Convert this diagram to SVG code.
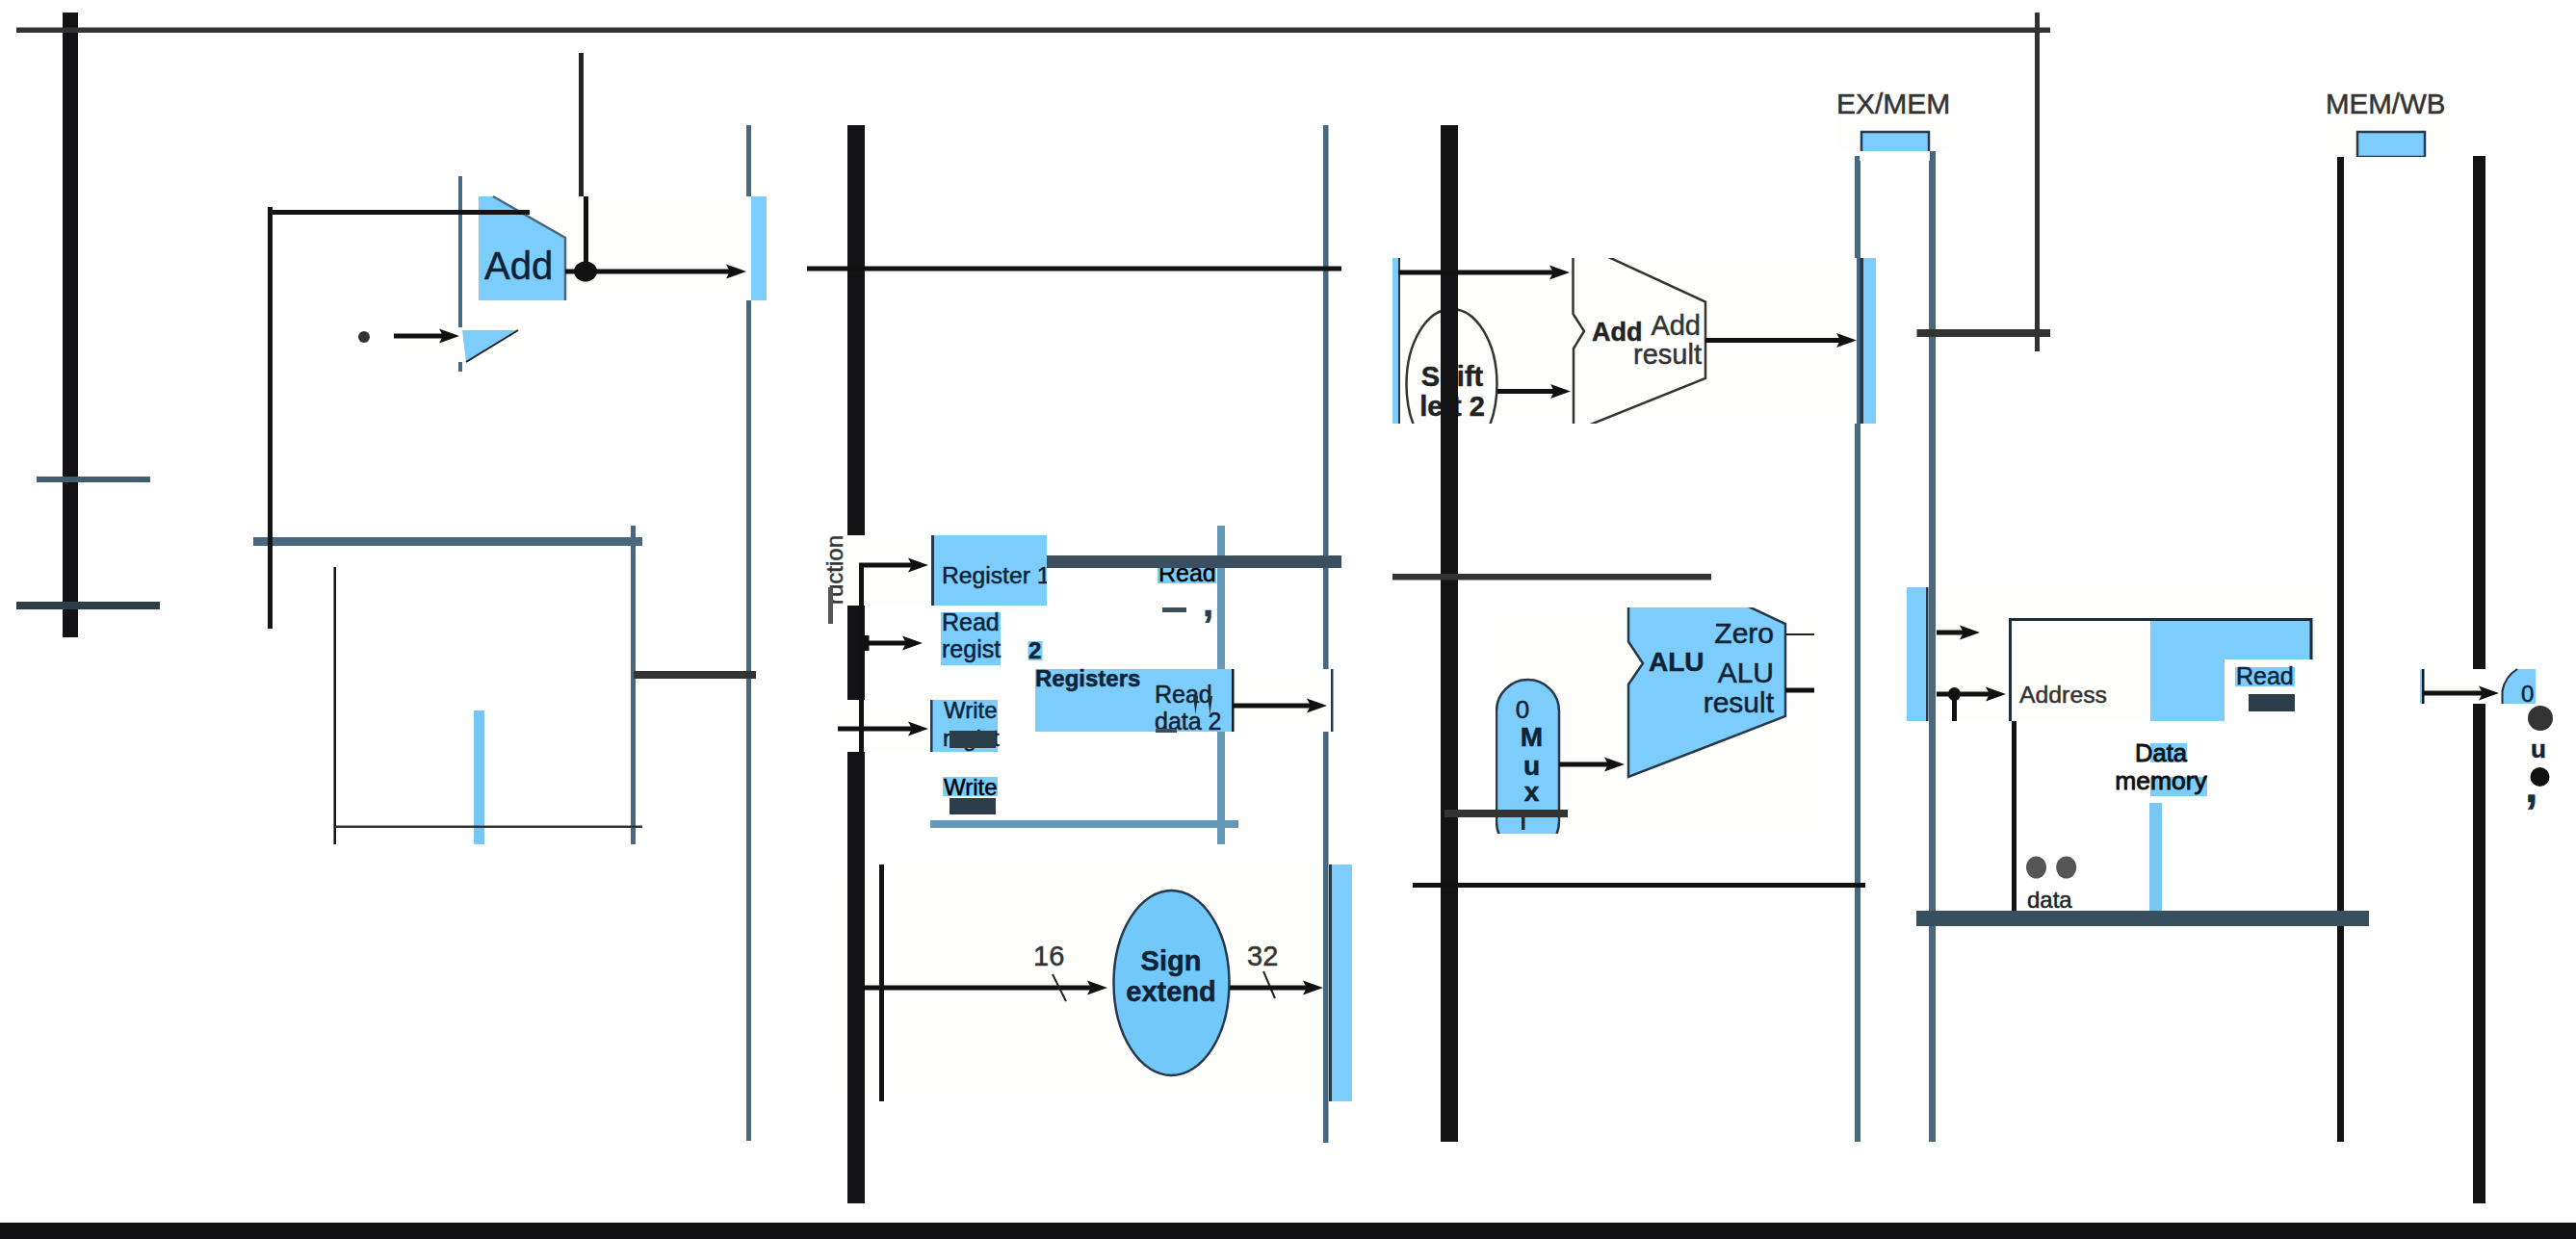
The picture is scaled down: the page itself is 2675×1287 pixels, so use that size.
<svg xmlns="http://www.w3.org/2000/svg" width="2675" height="1287" viewBox="0 0 2675 1287">
<style>
text{font-family:"Liberation Sans",Arial,sans-serif;fill:#0f2236;stroke:#0f2236;stroke-width:.5px;font-size:24px}
.b{font-weight:bold}
.g{fill:#333;stroke:#333}
.e{text-anchor:end}
.m{text-anchor:middle}
.blue{fill:#7ccdfb}
.bg{fill:#fefefc}
.black{fill:#131214}
.slate{fill:#48687f}
.sky{fill:#6499b9}
.dk{fill:#2d3e4b}
.ch{fill:#333}
.ink{fill:#3a5060}
.w{fill:#fff}
.shape{stroke:#26384a;stroke-width:2.5}
.open{fill:none;stroke:#333;stroke-width:2.5}
.arr{fill:none;stroke:#111;stroke-width:5;marker-end:url(#ah)}
.ln{fill:none;stroke:#111;stroke-width:5}
.tick{fill:none;stroke:#222;stroke-width:2}
</style>
<defs>
<marker id="ah" markerUnits="userSpaceOnUse" markerWidth="22" markerHeight="18" refX="8" refY="9" orient="auto"><path d="M0,1.5 L21,9 L0,16.5 L4,9z" fill="#111"/></marker>
<clipPath id="addClip"><rect x="1446" y="268" width="482" height="172"/></clipPath>
<clipPath id="muxClip"><rect x="1553" y="631" width="331" height="235"/></clipPath>
<clipPath id="regClip"><rect x="967" y="556" width="120" height="73"/></clipPath>
</defs>
<rect width="2675" height="1287" fill="#fff"/>
<g id="pipeline-registers">
<rect class="black" x="65" y="13" width="16" height="649"/>
<rect class="black" x="880" y="130" width="18" height="1120"/>
<rect class="slate" x="775" y="130" width="5" height="1055"/>
<rect class="slate" x="1374" y="130" width="5.5" height="1057"/>
<rect class="slate" x="1926" y="162" width="6" height="1024"/>
<rect class="slate" x="2003" y="157" width="7" height="1029"/>
<rect class="black" x="2427" y="162" width="7" height="1024"/>
<rect class="black" x="2568" y="162" width="13" height="1088"/>
<rect class="slate" x="476" y="183" width="4" height="203"/>
<rect class="slate" x="655" y="546" width="5" height="331"/>
<rect class="black" x="346.500" y="589" width="2.500" height="288"/>
<rect x="492" y="738" width="11" height="139" fill="#78c6f2"/>
<rect class="sky" x="1264" y="546" width="8" height="331"/>
<rect class="sky" x="966" y="852" width="320" height="8"/>
</g>
<g id="pc-adder">
<rect class="bg" x="497" y="204" width="299" height="108"/>
<path class="blue" d="M497,204H512L587,247V312H497Z"/>
<path d="M512,204L587,247V312" fill="none" stroke="#48687f" stroke-width="2.500"/>
<rect class="blue" x="780" y="204" width="16" height="108"/>
<text x="503" y="290" style="font-size:40px">Add</text>
<rect class="bg" x="410" y="340" width="130" height="36"/>
<path class="blue" d="M480,343H538L484,376Z"/>
<path d="M484,376L538,343" fill="none" stroke="#222" stroke-width="2"/>
<ellipse cx="378" cy="350" rx="6" ry="6" fill="#333"/>
</g>
<g id="registers">
<rect class="bg" x="876" y="556" width="91" height="73"/>
<rect class="bg" x="869" y="727" width="97" height="54"/>
<rect class="blue" x="967" y="556" width="120" height="73"/>
<rect x="967" y="556" width="3" height="73" fill="#26384a"/>
<g clip-path="url(#regClip)"><text x="978" y="606" style="font-size:24.700px">Register 1</text></g>
<text x="0" y="0" transform="translate(875 556) rotate(-90)" class="e g">ruction</text>
<rect x="860" y="610" width="5" height="38" fill="#555"/>
<rect class="blue" x="1202" y="586" width="61" height="20"/>
<text x="1203" y="604" style="font-size:25px;fill:#000;stroke:#000">Read</text>
<rect class="ink" x="1207" y="631" width="25" height="5"/>
<text x="1249" y="640" class="b" style="font-size:40px;fill:#2d3e4b">,</text>
<rect class="blue" x="977" y="636" width="62" height="55"/>
<text x="978" y="655" style="font-size:25px">Read</text>
<text x="978" y="683" style="font-size:25px">regist</text>
<rect class="blue" x="1067.500" y="666" width="15" height="20"/>
<text x="1068" y="684" class="b">2</text>
<rect class="blue" x="966" y="727" width="70" height="54"/>
<rect x="966" y="727" width="2.500" height="54" fill="#26384a"/>
<text x="980" y="746">Write</text>
<text x="979" y="775">regist</text>
<rect class="dk" x="986" y="759" width="48" height="18"/>
<rect class="blue" x="979" y="807" width="57" height="20"/>
<text x="980" y="826" style="fill:#000;stroke:#000">Write</text>
<rect class="dk" x="986" y="829" width="48" height="17"/>
<rect class="w" x="1279" y="695" width="106" height="65"/>
<rect class="bg" x="1281" y="695" width="101" height="65"/>
<rect class="blue" x="1075" y="695" width="204" height="65"/>
<rect x="1279" y="695" width="2.500" height="65" fill="#111"/>
<rect x="1382" y="695" width="2.500" height="65" fill="#26384a"/>
<text x="1075" y="713" class="b">Registers</text>
<text x="1199" y="730" style="font-size:25px">Read</text>
<text x="1199" y="758" style="font-size:25px">data 2</text>
<path d="M1239,723h5l-2.500,19zM1254,723h5l-2.500,19z" fill="#1c2d3c"/>
<rect class="ink" x="1200" y="757" width="22" height="4"/>
</g>
<g id="sign-extend">
<rect class="bg" x="870" y="898" width="504" height="246"/>
<rect class="bg" x="1380" y="898" width="3" height="246"/>
<rect class="black" x="880" y="898" width="18" height="246"/>
<rect class="black" x="913" y="898" width="5" height="246"/>
<rect x="1380" y="898" width="3" height="246" fill="#26384a"/>
<rect class="blue" x="1383" y="898" width="21" height="246"/>
<ellipse class="blue shape" cx="1216.500" cy="1021" rx="60" ry="96" style="fill:#72c8f8"/>
<text x="1216" y="1008" class="b m" style="font-size:29px">Sign</text>
<text x="1216" y="1040" class="b m" style="font-size:29px">extend</text>
<text x="1073" y="1003" class="g" style="font-size:29px">16</text>
<text x="1295" y="1003" class="g" style="font-size:29px">32</text>
</g>
<g id="branch-adder">
<rect class="bg" x="1446" y="268" width="482" height="172"/>
<rect class="blue" x="1446" y="268" width="6" height="172"/>
<rect x="1452" y="268" width="2" height="172" fill="#26384a"/>
<g clip-path="url(#addClip)">
<ellipse class="open" cx="1507.500" cy="399" rx="47" ry="78"/>
<path class="open" d="M1633.500,260V326L1645,344L1634,362V448L1771,393V313.500L1655,260"/>
</g>
<text x="1508" y="401" class="b m" style="font-size:29px;fill:#222;stroke:#222">Shift</text>
<text x="1508" y="432" class="b m" style="font-size:29px;fill:#222;stroke:#222">left 2</text>
<text x="1653" y="353.500" class="b" style="font-size:27px;fill:#222;stroke:#222">Add</text>
<text x="1766" y="348" class="e g" style="font-size:29px">Add</text>
<text x="1767" y="378" class="e g" style="font-size:29px">result</text>
<rect x="1931.500" y="268" width="3.500" height="172" fill="#26384a"/>
<rect class="blue" x="1935" y="268" width="13" height="172"/>
</g>
<g id="pipeline-register-ex">
<rect class="black" x="1496" y="130" width="18" height="1056"/>
</g>
<g id="alu">
<rect class="bg" x="1553" y="631" width="331" height="235"/>
<g clip-path="url(#muxClip)">
<rect class="blue shape" x="1554" y="706" width="65" height="180" rx="32.500" ry="32.500"/>
<path class="blue shape" d="M1691,625V666.500L1706,689L1691,711V807L1854,744V648L1805,625Z"/>
</g>
<text x="1581" y="746" class="m" style="font-size:26px">0</text>
<text x="1590.500" y="775" class="b m" style="font-size:28px">M</text>
<text x="1590.500" y="805" class="b m" style="font-size:28px">u</text>
<text x="1590.500" y="832" class="b m" style="font-size:28px">x</text>
<rect x="1580" y="848" width="3.500" height="14" fill="#1c2d3c"/>
<text x="1712" y="697" class="b" style="font-size:28px">ALU</text>
<text x="1842" y="668" class="e" style="font-size:30px">Zero</text>
<text x="1842" y="708.500" class="e" style="font-size:30px">ALU</text>
<text x="1842" y="740" class="e" style="font-size:30px">result</text>
</g>
<g id="ex-mem">
<rect class="bg" x="1907" y="95" width="118" height="62"/>
<text x="1907" y="118" class="g" style="font-size:30px">EX/MEM</text>
<rect class="blue shape" x="1933" y="137" width="70" height="24"/>
<rect class="w" x="1931" y="157" width="73" height="10"/>
<rect class="w" x="1932" y="167" width="71" height="100"/>
</g>
<g id="mem-wb">
<rect class="bg" x="2407" y="87" width="139" height="76"/>
<text x="2415" y="118" class="g" style="font-size:29.500px">MEM/WB</text>
<rect class="blue shape" x="2448" y="137" width="70" height="26"/>
<rect class="w" x="2440" y="163" width="90" height="6"/>
</g>
<g id="data-memory">
<rect class="bg" x="2011" y="610" width="405" height="139"/>
<rect class="blue" x="1980" y="610" width="21" height="139"/>
<rect x="2000" y="610" width="2.500" height="139" fill="#26384a"/>
<rect class="blue" x="2233" y="644" width="167" height="41"/>
<rect class="blue" x="2233" y="644" width="77" height="105"/>
<rect class="w" x="2310" y="685" width="106" height="64"/>
<path d="M2087.500,749V643.500H2400V685" fill="none" stroke="#1c2d3c" stroke-width="3"/>
<text x="2097" y="730" class="g" style="font-size:24.800px">Address</text>
<rect class="blue" x="2321" y="693" width="62" height="20"/>
<text x="2322" y="711" style="font-size:25px">Read</text>
<rect class="dk" x="2335" y="721" width="48" height="18"/>
<rect class="blue" x="2233" y="772" width="38" height="20"/>
<text x="2244" y="791" class="m" style="font-size:25.500px;fill:#111;stroke:#111;stroke-width:.9px">Data</text>
<rect class="blue" x="2233" y="807" width="59" height="20"/>
<text x="2244" y="820" class="m" style="font-size:26.500px;fill:#111;stroke:#111;stroke-width:.9px">memory</text>
<rect class="black" x="2089" y="749" width="5" height="197"/>
<ellipse cx="2114.500" cy="901" rx="10.500" ry="11.500" fill="#555"/>
<ellipse cx="2145.700" cy="901" rx="10.500" ry="11.500" fill="#555"/>
<text x="2105" y="943" class="g" style="fill:#222;stroke:#222">data</text>
<rect x="2232" y="834" width="13" height="112" fill="#78c6f2"/>
</g>
<g id="write-mux">
<rect class="bg" x="2513" y="695" width="85" height="36"/>
<rect class="blue" x="2513" y="695" width="4" height="36"/>
<rect x="2515" y="695" width="2.500" height="36" fill="#111"/>
<path class="blue" d="M2598,731V718Q2601,703 2614,695H2633V731Z"/>
<path d="M2598.500,731V718Q2601,703 2614,695" fill="none" stroke="#1c2d3c" stroke-width="2"/>
<text x="2618" y="729" style="font-size:24px">0</text>
<ellipse cx="2638" cy="746" rx="13" ry="13" fill="#333"/>
<text x="2636" y="787" class="b m" style="font-size:26px">u</text>
<ellipse cx="2637.500" cy="807" rx="10" ry="10" fill="#111"/>
<text x="2622" y="833" class="b" style="font-size:48px;fill:#1c2d3c">,</text>
</g>
<g id="connectors">
<rect x="17" y="28.500" width="2112" height="5.500" fill="#333"/>
<rect x="2113" y="13" width="5" height="352" fill="#333"/>
<rect x="1990.500" y="342" width="138.500" height="8" fill="#333"/>
<rect x="38" y="495" width="118" height="6" fill="#3f5c6e"/>
<rect class="dk" x="17" y="625" width="149" height="8"/>
<rect x="263" y="558" width="404" height="9" class="slate"/>
<rect x="278" y="215" width="5" height="438" class="black"/>
<rect x="278" y="218" width="272" height="5" class="black"/>
<rect x="348" y="857.500" width="319" height="2.500" fill="#333"/>
<rect x="658" y="697" width="127" height="8" fill="#333"/>
<rect x="601" y="55" width="5" height="149" fill="#222"/>
<path class="ln" d="M608.500,204V282M587,282H620"/>
<path class="arr" d="M608,282H762"/>
<ellipse cx="608" cy="282" rx="12" ry="10.500" fill="#111"/>
<path class="arr" d="M409,349H464"/>
<path class="ln" d="M838,279H1393"/>
<rect x="1087" y="577" width="306" height="13" class="ink"/>
<path class="ln" d="M894.500,585V781"/>
<path class="arr" d="M892,587H951"/>
<path class="arr" d="M898,668H945"/>
<path class="ln" d="M900,660V676"/>
<path class="arr" d="M870,757H951"/>
<path class="arr" d="M1281,733H1365"/>
<path class="arr" d="M898,1026H1137"/>
<path class="tick" d="M1093,1012L1107,1040M1312,1009L1324,1037"/>
<path class="arr" d="M1277,1026H1361"/>
<path class="arr" d="M1452,283H1617"/>
<path class="arr" d="M1555,406.500H1618"/>
<path class="arr" d="M1771,353.500H1915"/>
<rect x="1446" y="596" width="331" height="6.500" fill="#333"/>
<path class="arr" d="M1619,794H1674"/>
<rect x="1500" y="841" width="128" height="8" fill="#333"/>
<path d="M1854,659H1884" fill="none" stroke="#222" stroke-width="2"/>
<path class="ln" d="M1854,717H1884"/>
<path class="ln" d="M1467,919.500H1937"/>
<path class="arr" d="M2011,657H2043"/>
<path class="arr" d="M2011,721H2070"/>
<path class="ln" d="M2029.500,721V749"/>
<ellipse cx="2029.500" cy="721" rx="6.500" ry="7" fill="#111"/>
<rect x="1990" y="946" width="470" height="16" fill="#384f5f"/>
<path class="arr" d="M2517,720H2582"/>
</g>
<rect id="footer-band" y="1270" width="2675" height="17" fill="#121113"/>
</svg>
